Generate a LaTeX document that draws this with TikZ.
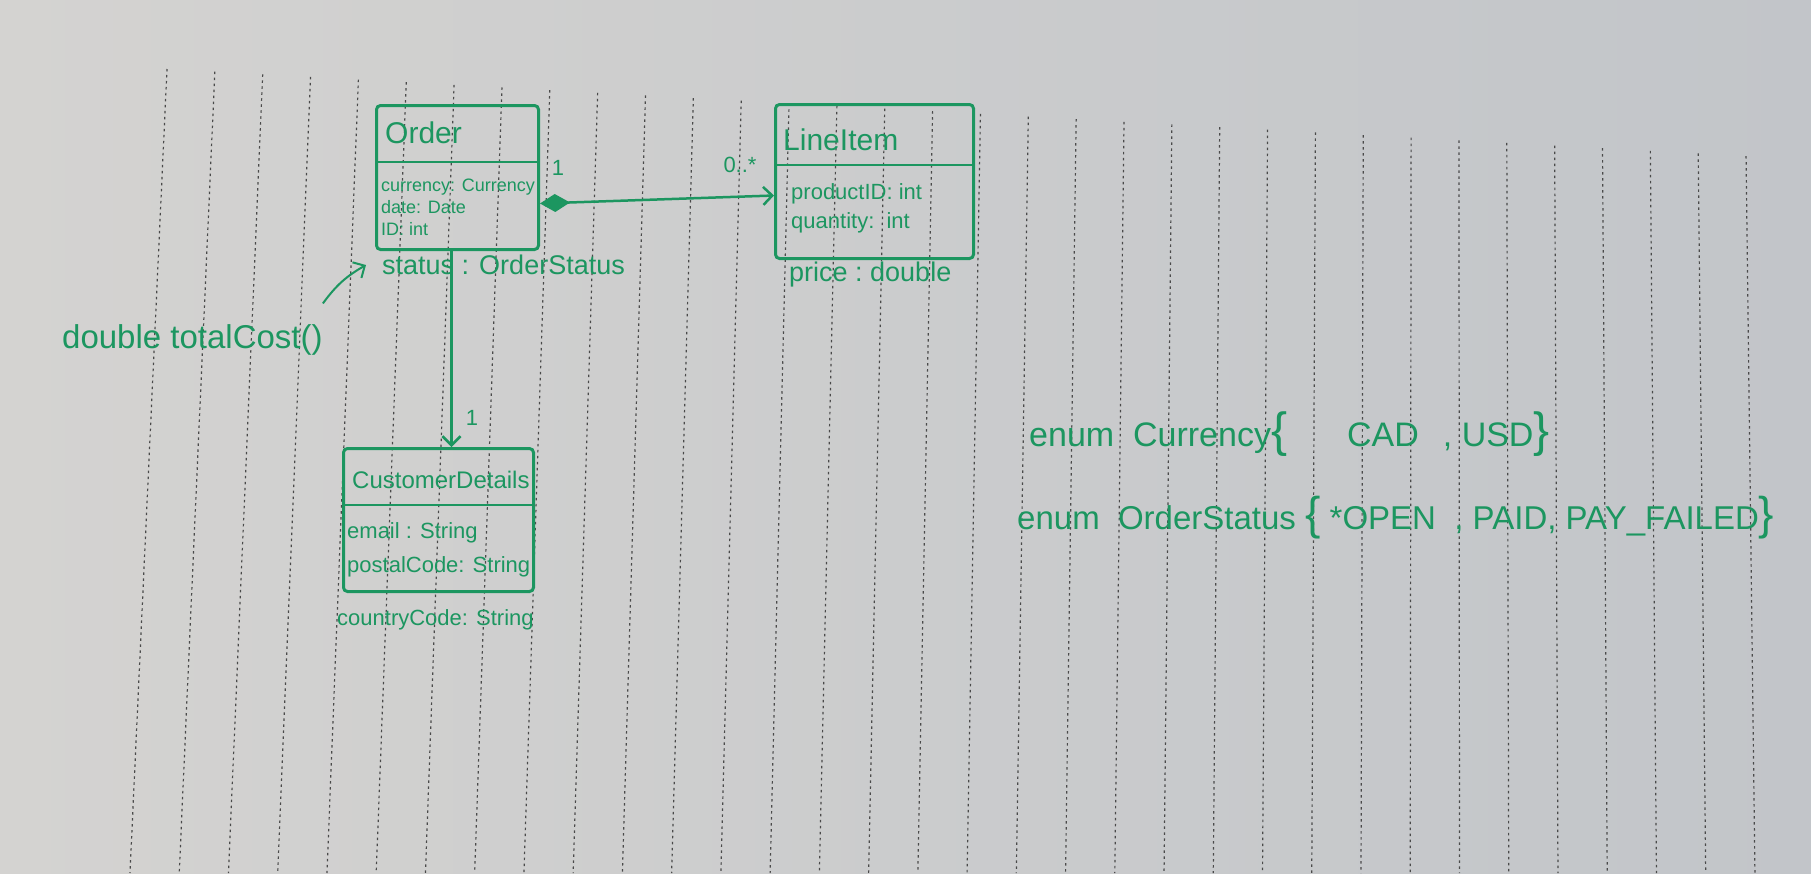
\documentclass[tikz,border=0pt]{standalone}
\usepackage{fontspec}
\setmainfont{Liberation Sans}
\usepackage{tikz}
\usetikzlibrary{arrows.meta, positioning, calc}
\definecolor{inkgreen}{HTML}{1C9660}
\definecolor{paperlight}{HTML}{D4D3D1}
\definecolor{paperdark}{HTML}{C2C5C9}
\definecolor{rulegray}{HTML}{4A4A4A}

\begin{document}
\begin{tikzpicture}[
    x=1pt, y=-1pt,
    every node/.style={text=inkgreen, inner sep=0pt},
    classbox/.style={draw=inkgreen, line width=3pt, rounded corners=4pt, anchor=north west},
    classname/.style={anchor=west, font=\fontsize{30}{34}\selectfont},
    attr/.style={anchor=west, align=left, font=\fontsize{22}{29}\selectfont},
    enumline/.style={anchor=west, font=\fontsize{34}{38}\selectfont},
    divider/.style={draw=inkgreen, line width=2.5pt},
    mult/.style={font=\fontsize{22}{26}\selectfont},
    assoc/.style={draw=inkgreen, line width=2.5pt, -{Straight Barb[length=9pt, width=18pt]}}
]
    % paper
    \useasboundingbox (0,0) rectangle (1811,873);
    \shade[left color=paperlight, right color=paperdark] (0,0) rectangle (1811,873);
    \foreach \i in {0,...,33} {
        \draw[rulegray, line width=1.2pt, dash pattern=on 2.5pt off 3.5pt]
            ({167+47.85*\i}, {69+2.64*\i}) -- ({130+49.24*\i}, 873);
    }

    % classes
    \node[classbox, minimum width=162pt, minimum height=144pt] (order) at (375,104) {};
    \node[classname] (ordername) at ($(order.north west)+(10,29)$) {Order};
    \draw[divider] ($(order.north west)+(0,58)$) -- ($(order.north east)+(0,58)$);
    \node[attr, font=\fontsize{18}{22}\selectfont] (orderattrs) at ($(order.north west)+(6,103)$)
        {currency: Currency\\date: Date\\ID: int};
    \node[attr, font=\fontsize{27}{30}\selectfont] (status) at (382,265) {status : OrderStatus};

    \node[classbox, minimum width=198pt, minimum height=154pt] (lineitem) at (774,103) {};
    \node[classname] (lineitemname) at ($(lineitem.north west)+(9,37)$) {LineItem};
    \draw[divider] ($(lineitem.north west)+(0,62)$) -- ($(lineitem.north east)+(0,62)$);
    \node[attr] (lineitemattrs) at ($(lineitem.north west)+(17,105)$)
        {productID: int\\quantity:\ \ int};
    \node[attr, font=\fontsize{27}{30}\selectfont] (price) at (789,275) {price :\ double};

    \node[classbox, minimum width=190pt, minimum height=143pt] (custdet) at (342,447) {};
    \node[classname, font=\fontsize{24}{28}\selectfont] (custdetname) at ($(custdet.north west)+(10,33)$) {CustomerDetails};
    \draw[divider] ($(custdet.north west)+(0,58)$) -- ($(custdet.north east)+(0,58)$);
    \node[attr, font=\fontsize{22}{34}\selectfont] (custdetattrs) at ($(custdet.north west)+(5,103)$)
        {email : String\\postalCode: String};
    \node[attr] (country) at (337,620) {countryCode: String};

    % associations
    \draw[assoc, {Diamond[length=30pt, width=18pt]}-{Straight Barb[length=9pt, width=18pt]}]
        ([yshift=-26pt]order.east) -- ([yshift=-14pt]lineitem.west);
    \node[mult] (mult1) at (558,168) {1};
    \node[mult] (multmany) at (740,165) {0..*};

    \draw[assoc] ([xshift=-6pt]order.south) -- ([xshift=-6pt]order.south |- custdet.north);
    \node[mult] (mult2) at (472,418) {1};

    % method note
    \node[attr, font=\fontsize{33}{38}\selectfont] (totalcost) at (62,340) {double totalCost()};
    \draw[assoc, line width=2pt] ([yshift=21pt]totalcost.north east) to[bend left=12] ([xshift=-16pt]status.west);

    % enums
    \node[enumline] (currencyenum) at (1029,434)
        {enum\ \ Currency{\fontsize{48}{48}\selectfont\{}\hspace{60pt}CAD\hspace{24pt},\ USD{\fontsize{48}{48}\selectfont\}}};
    \node[enumline, font=\fontsize{33}{38}\selectfont] (statusenum) at (1017,518)
        {enum\ \ OrderStatus\ {\fontsize{46}{46}\selectfont\{}\ *OPEN\ \ ,\ PAID,\ PAY\_FAILED{\fontsize{46}{46}\selectfont\}}};
\end{tikzpicture}
\end{document}
